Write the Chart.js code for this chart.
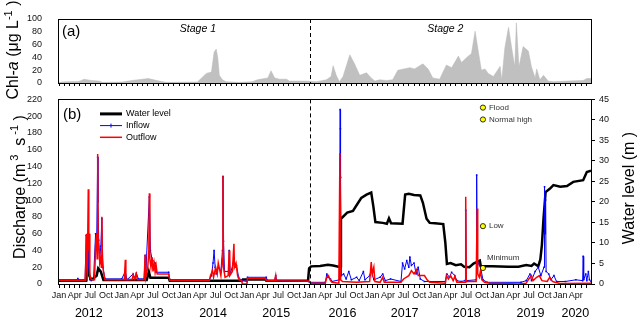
<!DOCTYPE html>
<html>
<head>
<meta charset="utf-8">
<script src="https://cdn.jsdelivr.net/npm/chart.js@4.4.0/dist/chart.umd.min.js"></script>
<style>
  html, body { margin: 0; padding: 0; background: #fff; }
  #wrap { position: relative; width: 643px; height: 325px; overflow: hidden; }
  #chlWrap { position: absolute; left: 0; top: 0; }
  #flowWrap { position: absolute; left: 0; top: 86px; }
</style>
</head>
<body>
<div id="wrap">
  <div id="chlWrap"><canvas id="chlChart" width="643" height="100"></canvas></div>
  <div id="flowWrap"><canvas id="flowChart" width="643" height="239"></canvas></div>
</div>
<script>
/* Chl-a / discharge / water level, Jan 2012 - mid 2020
   x values are months counted from Jan 2012 */

const FONT = 'Arial, "Liberation Sans", sans-serif';
const X_MIN = -0.2;
const X_MAX = 101.9;
const STAGE_SPLIT = 48;            // Jan 2016

// tick labels
const monthNames = ['Jan', 'Apr', 'Jul', 'Oct'];
const yearLabels = ['2012', '2013', '2014', '2015', '2016', '2017', '2018', '2019', '2020'];
const yearPos = [5.7, 17.4, 29.5, 41.6, 54.3, 66.2, 78.1, 90.3, 98.9];
const stageLabels = ['Stage 1', 'Stage 2'];
const stagePos = [26.6, 74];

// (a) Chl-a, ug/L
const chlT = [-0.2, 1.3, 3.8, 4.8, 6.1, 7.7, 8.3, 12.1, 14, 17.1, 19.2, 20.5, 26.5, 28.2, 29.2, 29.4, 29.7, 30.1,
  30.4, 30.7, 31.3, 32, 34.5, 37, 38, 40, 40.6, 41.3, 42.2, 43.6, 44.1, 47.4, 49.3, 51.2, 52.1, 52.5, 53.1, 53.7,
  54.4, 55.7, 56.6, 57.6, 58.9, 59.8, 60.5, 61.4, 62.7, 63.9, 64.9, 67.2, 68.1, 69.7, 70.7, 71.6, 72.9, 74.2,
  75.2, 76.5, 77.1, 78.1, 79, 79.7, 80.3, 80.9, 81.6, 82.2, 83.2, 84.5, 84.8, 85.4, 86.1, 86.7, 87.3, 87.6, 88.1,
  88.9, 89.9, 90.5, 91.2, 91.5, 92.1, 92.8, 93.7, 94.7, 97.3, 100.4, 101.1, 101.9];
const chlV = [1, 2, 2.5, 6, 4, 3, 1, 1.5, 4, 7, 3, 1, 1.5, 15, 17, 30, 48, 53,
  40, 12, 5, 2, 1, 2, 5, 8, 19, 8, 6, 6, 3, 3, 2, 5, 10, 27, 12, 2,
  10, 44, 30, 12, 16, 8, 3, 5, 4, 5, 20, 24, 22, 30, 22, 8, 6, 28,
  24, 42, 32, 40, 46, 81, 50, 20, 22, 15, 10, 26, 4, 55, 87, 55, 25, 94, 25,
  57, 50, 25, 8, 22, 5, 12, 3, 2, 3, 4, 7, 7];

// (b) water level, m
const levelT = [-0.2, 5.2, 5.5, 5.8, 6.2, 7.2, 7.5, 8.0, 8.5, 16.8, 17.2, 17.5, 21.0, 21.2, 35.0, 35.2, 39.5, 39.7,
  47.7, 47.9, 48.3, 50.0, 51.5, 52.5, 53.5, 53.9, 54.0, 55.2, 56.3, 57.3, 57.9, 58.9, 59.8, 60.2, 60.6, 62.0,
  62.8, 63.2, 63.6, 65.8, 66.3, 67.0, 68.0, 69.2, 69.7, 70.4, 71.0, 72.0, 73.6, 74.0, 74.3, 75.0, 76.0, 77.0,
  77.6, 78.6, 79.4, 80.6, 80.8, 83.0, 86.0, 88.0, 89.5, 90.5, 91.0, 91.8, 92.2, 92.5, 92.8, 93.2, 94.0, 94.7,
  96.0, 97.3, 98.5, 100.4, 101.1, 101.9];
const levelV = [0.8, 0.8, 4.5, 2, 1, 2, 3.8, 3, 1, 1, 3, 1.5, 1.5, 0.8, 0.8, 1.1, 1.1, 0.8,
  0.8, 3.8, 4.3, 4.4, 4.7, 4.5, 4.2, 4.3, 15.9, 17.4, 17.8, 19.8, 21, 21.8, 22.3, 19, 15.1, 14.9,
  14.7, 16.0, 14.8, 14.7, 21.8, 22.0, 21.7, 21.6, 19.8, 15.9, 14.9, 14.8, 14.6, 10, 4.9, 5.1, 4.6, 4.8,
  4.2, 4.1, 5.0, 5.7, 4.3, 4.3, 4.2, 4.2, 4.6, 4.4, 5.0, 4.3, 6, 9.6, 15.9, 22.4, 23.2, 24.1,
  23.7, 23.9, 24.9, 25.3, 27.3, 27.6];

// (b) inflow, m3/s
const inflowT = [-0.2, 3.4, 3.6, 3.8, 5.0, 5.2, 5.3, 5.5, 5.6, 5.7, 5.9, 6.6, 7.0, 7.2, 7.4, 7.45, 7.6, 7.8, 8.0, 8.2,
  8.4, 8.8, 12.0, 12.7, 13.0, 14.2, 14.5, 14.8, 15.2, 16.3, 16.5, 16.6, 17.3, 17.5, 17.8, 18.4, 18.6, 21.0, 21.2,
  28.8, 29.2, 29.5, 29.7, 29.9, 30.1, 30.5, 31.0, 31.3, 31.4, 31.5, 31.7, 32.5, 32.6, 32.8, 33.4, 33.7, 34.0,
  34.4, 35.0, 36.0, 36.1, 39.7, 39.9, 41.3, 41.5, 41.7, 47.8,
  48.0, 51.0, 51.3, 51.5, 52.0, 52.3, 53.7, 53.85, 53.9, 53.95, 54.1, 54.5, 55.0, 55.5, 56.0, 57.0, 57.5, 58.3,
  58.6, 59.5, 59.8, 60.3, 61.5, 62.0, 62.5, 63.5, 65.5, 65.8, 66.2, 66.6, 67.0, 67.2, 67.5, 68.0, 68.4, 68.8,
  69.2, 70.0, 74.0, 74.3, 74.8, 75.2, 75.8, 76.2, 77.0, 77.8, 77.9, 78.0, 79.9, 80.0, 80.1, 80.4, 80.8, 81.2,
  82.0, 88.5, 89.5, 90.2, 90.5, 91.2, 91.8, 92.3, 92.9, 93.0, 93.1, 93.2, 93.3, 93.8, 94.2, 94.8, 95.3, 97.0,
  99.0, 100.3, 100.4, 100.5, 100.9, 101.1, 101.4, 101.6, 101.9];
const inflowV = [5, 5, 6.5, 5, 5, 58, 20, 40, 60, 20, 5, 5, 60, 45, 151, 98, 52, 30, 45, 78,
  20, 6, 6, 15, 5, 12, 6, 13, 6, 6, 34, 10, 104, 40, 30, 25, 14, 14, 5,
  5, 10, 25, 40, 20, 12, 20, 15, 40, 128, 51, 15, 15, 40, 12, 25, 20, 22,
  8, 4, 3, 8, 8, 4, 4, 10, 4, 3,
  2, 2, 12, 8, 6, 3, 5, 208, 185, 127, 10, 12, 6, 15, 5, 8, 4, 15,
  5, 10, 16, 5, 8, 12, 4, 6, 3, 25, 18, 28, 20, 32, 22, 25, 12, 20,
  6, 3, 3, 12, 8, 14, 10, 4, 3, 4, 88, 4, 5, 130, 20, 25, 18, 5,
  2, 2, 4, 12, 4, 15, 20, 10, 20, 116, 60, 100, 15, 12, 5, 10, 3, 3,
  5, 4, 33, 5, 12, 4, 15, 5, 3];

// (b) outflow, m3/s
const outflowT = [-0.2, 5.0, 5.3, 5.4, 5.6, 5.7, 5.8, 5.9, 6.2, 6.8, 7.0, 7.2, 7.3, 7.4, 7.5, 7.7, 7.8, 8.0, 8.1,
  8.2, 8.3, 8.5, 8.8, 12.5, 12.7, 12.8, 14.0, 14.2, 14.5, 14.8, 15.0, 16.3, 16.5, 16.6, 17.0, 17.2, 17.3, 17.4,
  17.6, 17.8, 18.0, 18.2, 18.4, 18.6, 18.8, 21.0, 21.2, 28.8, 29.0, 29.4, 29.6, 30.0, 30.3, 30.5, 31.0, 31.3,
  31.4, 31.5, 31.8, 32.4, 32.6, 32.7, 33.2, 33.5, 33.6, 33.9, 34.2, 34.5, 35.0, 35.1, 36.0, 36.1, 39.5, 39.7,
  41.3, 41.5, 41.6, 47.8,
  48.2, 51.0, 51.3, 51.6, 52.0, 52.3, 53.6, 53.8, 53.95, 54.3, 57.0, 59.5, 59.8, 60.0, 60.3, 60.5, 61.5, 62.0,
  62.3, 65.5, 66.0, 67.0, 67.5, 68.0, 68.5, 68.8, 70.0, 70.5, 71.0, 74.0, 74.2, 74.6, 75.0, 75.5, 75.8, 76.2,
  77.8, 77.9, 78.0, 79.9, 80.1, 80.2, 80.5, 80.7, 81.0, 81.5, 82.5, 88.0, 89.5, 90.0, 90.5, 90.8, 91.5, 92.0,
  92.5, 93.5, 94.0, 94.5, 95.0, 96.0, 101.9];
const outflowV = [4.5, 4.5, 60, 4, 113, 40, 60, 10, 5, 5, 45, 60, 30, 155, 50, 40, 25, 30, 20,
  80, 30, 15, 5, 5, 29, 5, 5, 11, 6, 12, 5, 5, 35, 8, 20, 40, 108, 30,
  20, 32, 15, 25, 14, 22, 12, 12, 4.5, 4.5, 10, 16, 8, 20, 12, 25, 10, 30,
  129, 20, 8, 10, 40, 10, 15, 48, 20, 25, 10, 5, 4, 0, 0, 7, 7, 4,
  4, 10, 4, 3.5,
  1, 1, 8, 10, 4, 2, 1, 156, 5, 3, 2, 3, 26, 12, 20, 3, 2, 8,
  2, 2, 6, 10, 16, 12, 17, 10, 10, 5, 2, 1, 10, 6, 10, 4, 9, 2,
  2, 104, 3, 3, 90, 12, 8, 15, 5, 2, 1, 0, 1, 6, 10, 4, 8, 10,
  4, 3, 8, 3, 2, 0.5, 1];

// reference levels, m
const refNames = ['Flood', 'Normal high', 'Low', 'Minimum'];
const refLevels = [43, 40.1, 14.1, 3.9];
const refTime = 81.2;

const pts = (ts, vs) => ts.map((t, i) => ({ x: t, y: vs[i] }));

Chart.defaults.font.family = FONT;
Chart.defaults.color = '#111';

function monthTicks(scale) {
  const ticks = [];
  for (let m = Math.ceil(X_MIN); m <= X_MAX; m++) ticks.push({ value: m });
  scale.ticks = ticks;
}

function monthLabel(v) {
  const k = ((Math.round(v) % 12) + 12) % 12;
  return k % 3 === 0 ? monthNames[k / 3] : '';
}

// rotated axis title made of several runs (italic, superscripts)
function drawRotated(ctx, cx, cy, parts) {
  ctx.save();
  ctx.translate(cx, cy);
  ctx.rotate(-Math.PI / 2);
  let total = 0;
  parts.forEach(p => { ctx.font = p.font; p.w = ctx.measureText(p.text).width; total += p.w; });
  let x = -total / 2;
  ctx.fillStyle = '#000';
  ctx.textBaseline = 'alphabetic';
  parts.forEach(p => { ctx.font = p.font; ctx.fillText(p.text, x, p.dy || 0); x += p.w; });
  ctx.restore();
}

const F16 = '16px ' + FONT;
const F11 = '11px ' + FONT;

// box + stage divider
const framePlugin = {
  id: 'frame',
  afterDatasetsDraw(chart) {
    const { ctx, chartArea: a, scales } = chart;
    ctx.save();
    ctx.strokeStyle = '#000';
    ctx.lineWidth = 1;
    ctx.strokeRect(Math.round(a.left) + 0.5, Math.round(a.top) + 0.5,
      Math.round(a.right - a.left), Math.round(a.bottom - a.top));
    const sx = Math.round(scales.x.getPixelForValue(STAGE_SPLIT)) + 0.5;
    ctx.setLineDash([4, 3]);
    ctx.beginPath();
    ctx.moveTo(sx, a.top);
    ctx.lineTo(sx, a.bottom);
    ctx.stroke();
    ctx.restore();
  }
};

const chlText = {
  id: 'chlText',
  afterDraw(chart) {
    const { ctx, chartArea: a, scales } = chart;
    ctx.save();
    ctx.fillStyle = '#000';
    ctx.textBaseline = 'middle';
    ctx.font = '15px ' + FONT;
    ctx.fillText('(a)', a.left + 4, a.top + 13);
    ctx.font = 'italic 10.5px ' + FONT;
    ctx.textAlign = 'center';
    stageLabels.forEach((s, i) => ctx.fillText(s, scales.x.getPixelForValue(stagePos[i]), a.top + 10));
    ctx.restore();
    drawRotated(ctx, 18, 50, [
      { text: 'Chl-', font: F16 },
      { text: 'a', font: 'italic ' + F16 },
      { text: ' (\u03bcg L', font: F16 },
      { text: '-1', font: F11, dy: -6 },
      { text: ' )', font: F16 }
    ]);
  }
};

const flowText = {
  id: 'flowText',
  afterDraw(chart) {
    const { ctx, chartArea: a, scales } = chart;
    ctx.save();
    ctx.fillStyle = '#000';
    ctx.textBaseline = 'middle';
    ctx.font = '15px ' + FONT;
    ctx.fillText('(b)', a.left + 5, a.top + 15);

    // legend
    const lx = a.left + 42, lw = 22;
    const rows = [
      { name: 'Water level', color: '#000', width: 3 },
      { name: 'Inflow', color: '#0000ff', width: 1, mark: true },
      { name: 'Outflow', color: '#ff0000', width: 1.5 }
    ];
    ctx.font = '9px ' + FONT;
    rows.forEach((r, i) => {
      const y = a.top + 14.5 + i * 11.7;
      ctx.strokeStyle = r.color;
      ctx.lineWidth = r.width;
      ctx.beginPath();
      ctx.moveTo(lx, y);
      ctx.lineTo(lx + lw, y);
      ctx.stroke();
      if (r.mark) {
        ctx.lineWidth = 1;
        ctx.beginPath();
        ctx.moveTo(lx + lw / 2, y - 2);
        ctx.lineTo(lx + lw / 2, y + 2);
        ctx.stroke();
      }
      ctx.fillStyle = '#000';
      ctx.fillText(r.name, lx + lw + 4, y);
    });

    // reference level labels
    const px = scales.x.getPixelForValue(refTime);
    ctx.font = '8px ' + FONT;
    ctx.fillStyle = '#333';
    refNames.forEach((n, i) => {
      const py = scales.yr.getPixelForValue(refLevels[i]);
      if (n === 'Minimum') ctx.fillText(n, px + 4, py - 10);
      else ctx.fillText(n, px + 6, py);
    });
    ctx.restore();

    drawRotated(ctx, 25, 101, [
      { text: 'Discharge (m', font: F16 },
      { text: ' 3', font: F11, dy: -7 },
      { text: '  s', font: F16 },
      { text: ' -1', font: F11, dy: -7 },
      { text: ' )', font: F16 }
    ]);
    drawRotated(ctx, 634, 102, [{ text: 'Water level (m )', font: F16 }]);
  }
};

const tickFont = { size: 9 };

new Chart(document.getElementById('chlChart'), {
  type: 'line',
  data: {
    datasets: [{
      data: pts(chlT, chlV),
      fill: 'origin',
      backgroundColor: '#c0c0c0',
      borderColor: '#b8b8b8',
      borderWidth: 0.5,
      pointRadius: 0,
      tension: 0
    }]
  },
  options: {
    responsive: false,
    animation: false,
    events: [],
    layout: { padding: { top: 19, right: 52, left: 0, bottom: 0 } },
    plugins: { legend: { display: false }, tooltip: { enabled: false } },
    scales: {
      x: {
        type: 'linear', min: X_MIN, max: X_MAX,
        afterBuildTicks: monthTicks,
        afterFit: s => { s.height = 17; },
        ticks: { callback: () => '', autoSkip: false, maxRotation: 0 },
        grid: { drawOnChartArea: false, tickLength: 3, color: '#000' },
        border: { color: '#000' }
      },
      y: {
        min: 0, max: 100,
        afterFit: s => { s.width = 58; },
        ticks: { stepSize: 20, padding: 8, font: tickFont, autoSkip: false },
        grid: { display: false },
        border: { color: '#000' }
      }
    }
  },
  plugins: [framePlugin, chlText]
});

new Chart(document.getElementById('flowChart'), {
  type: 'line',
  data: {
    datasets: [
      {
        label: 'levels',
        data: refLevels.map(v => ({ x: refTime, y: v })),
        yAxisID: 'yr',
        showLine: false,
        pointRadius: 2.6,
        pointBackgroundColor: '#ffff00',
        pointBorderColor: '#000',
        pointBorderWidth: 0.8
      },
      {
        label: 'Outflow',
        data: pts(outflowT, outflowV),
        yAxisID: 'y',
        borderColor: '#ff0000',
        borderWidth: 1.5,
        pointRadius: 0,
        tension: 0
      },
      {
        label: 'Inflow',
        data: pts(inflowT, inflowV),
        yAxisID: 'y',
        borderColor: '#0000ff',
        borderWidth: 1,
        pointRadius: 1.1,
        pointStyle: 'rect',
        pointBackgroundColor: '#0000ff',
        pointBorderColor: '#0000ff',
        pointBorderWidth: 0,
        tension: 0
      },
      {
        label: 'Water level',
        data: pts(levelT, levelV),
        yAxisID: 'yr',
        borderColor: '#000',
        borderWidth: 2.5,
        pointRadius: 0,
        tension: 0
      }
    ]
  },
  options: {
    responsive: false,
    animation: false,
    events: [],
    layout: { padding: { top: 7, right: 0, left: 0, bottom: 0 } },
    plugins: { legend: { display: false }, tooltip: { enabled: false } },
    scales: {
      x: {
        type: 'linear', position: 'bottom', min: X_MIN, max: X_MAX,
        afterBuildTicks: monthTicks,
        afterFit: s => { s.height = 18; },
        ticks: { callback: monthLabel, autoSkip: false, maxRotation: 0, padding: 2, font: tickFont },
        grid: { drawOnChartArea: false, tickLength: 4, color: '#000' },
        border: { color: '#000' }
      },
      x2: {
        type: 'linear', position: 'bottom', min: X_MIN, max: X_MAX,
        afterBuildTicks: s => { s.ticks = yearPos.map(v => ({ value: v })); },
        afterFit: s => { s.height = 23; },
        ticks: { callback: (v, i) => yearLabels[i], autoSkip: false, maxRotation: 0, padding: -4, font: { size: 12.5 }, color: '#000' },
        grid: { display: false },
        border: { display: false }
      },
      y: {
        position: 'left', min: 0, max: 220,
        afterFit: s => { s.width = 58; },
        ticks: { stepSize: 20, padding: 8, font: tickFont, autoSkip: false },
        grid: { display: false },
        border: { color: '#000' }
      },
      yr: {
        position: 'right', min: 0, max: 45,
        afterFit: s => { s.width = 52; },
        ticks: { stepSize: 5, padding: 4, font: tickFont, autoSkip: false },
        grid: { drawOnChartArea: false, tickLength: 4, color: '#000' },
        border: { color: '#000' }
      }
    }
  },
  plugins: [framePlugin, flowText]
});
</script>
</body>
</html>
